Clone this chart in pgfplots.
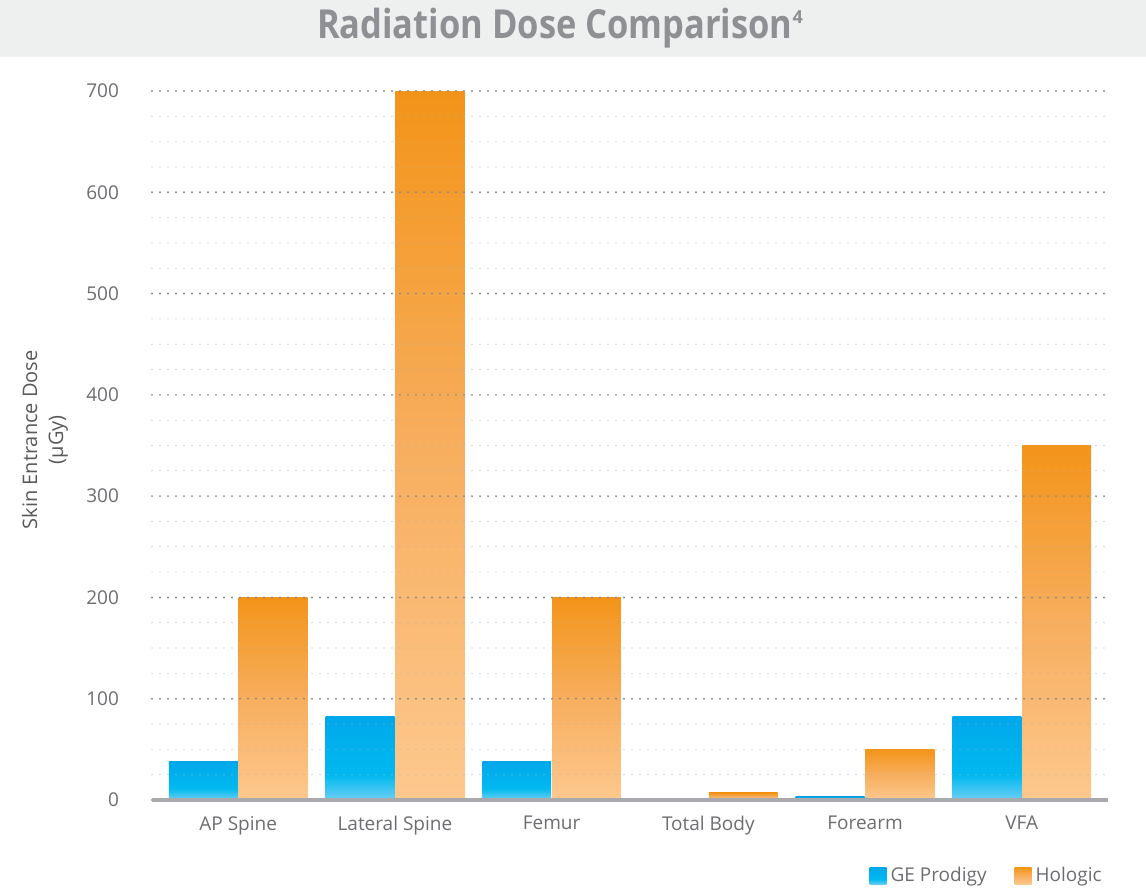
\documentclass[border=0pt]{standalone}
\usepackage{pgfplots}
\pgfplotsset{compat=1.18}
\usepackage{fontspec}
\setmainfont{Open Sans}
\definecolor{titlebg}{HTML}{EEEFEF}
\definecolor{titlegray}{HTML}{8E9093}
\definecolor{textgray}{HTML}{6D6E71}
\definecolor{labelgray}{HTML}{58595B}
\definecolor{axisgray}{HTML}{A7A9AC}
\definecolor{blueTop}{HTML}{00A8EB}
\definecolor{blueMid}{HTML}{00B9EF}
\definecolor{blueBot}{HTML}{6DCEF5}
\definecolor{orTop}{HTML}{F39419}
\definecolor{orMid}{HTML}{F7AE5E}
\definecolor{orBot}{HTML}{FDC88E}
\pgfdeclareverticalshading{blueshade}{100bp}{color(0bp)=(blueBot); color(25bp)=(blueBot); color(40bp)=(blueMid); color(75bp)=(blueTop); color(100bp)=(blueTop)}
\pgfdeclareverticalshading{orshade}{100bp}{color(0bp)=(orBot); color(25bp)=(orBot); color(50bp)=(orMid); color(75bp)=(orTop); color(100bp)=(orTop)}
\pgfplotsset{
  sqlegend/.style={legend image code/.code={\path[##1] (0pt,-4.25pt) rectangle (8.5pt,4.25pt);}},
  gebar/.style={ybar, bar width=0.44, bar shift=-0.2225, draw=none, shading=blueshade, sqlegend},
  hobar/.style={ybar, bar width=0.44, bar shift=0.2225, draw=none, shading=orshade, sqlegend},
}
\begin{document}
\begin{tikzpicture}
\path[use as bounding box, fill=white] (0pt,0pt) rectangle (573pt,445pt);
\fill[titlebg] (0pt,416.5pt) rectangle (573pt,445pt);
\node[text=titlegray, font=\bfseries\fontsize{20}{24}\selectfont] at (280pt,431pt) {\scalebox{0.862}[1]{Radiation Dose Comparison}\raisebox{0.38em}{\fontsize{9}{10}\selectfont 4}};
\begin{axis}[
  at={(76pt,45pt)}, anchor=south west,
  scale only axis, width=478pt, height=354.5pt,
  xmin=-0.55, xmax=5.55, ymin=0, ymax=700,
  xtick={0,1,2,3,4,5},
  xticklabels={AP Spine, Lateral Spine, Femur, Total Body, Forearm, VFA},
  ytick={0,100,...,700}, minor y tick num=3,
  ymajorgrids, yminorgrids,
  major grid style={draw=black!45, line width=1.1pt, dash pattern=on 0pt off 4pt, line cap=round},
  minor grid style={draw=black!30, line width=0.6pt, dash pattern=on 0pt off 4pt, line cap=round},
  axis on top,
  axis x line*=bottom, axis y line*=left,
  x axis line style={draw=axisgray, line width=1.6pt, -},
  y axis line style={draw=none},
  major tick length=0pt, minor tick length=0pt,
  tick label style={font=\fontsize{9.5}{11}\selectfont, text=textgray},
  /pgf/number format/assume math mode=true,
  yticklabel style={xshift=-13pt},
  xticklabel style={yshift=-4.5pt},
  ylabel={Skin Entrance Dose\\(µGy)},
  ylabel style={at={(axis description cs:-0.112,0.508)}, anchor=center, align=center, font=\fontsize{10}{13}\selectfont, text=labelgray},
  legend style={at={(axis description cs:0.998,-0.107)}, anchor=east, draw=none, fill=none, legend columns=2, font=\fontsize{9.5}{11}\selectfont, text=textgray, /tikz/every even column/.append style={column sep=12pt}, inner sep=0pt},
  legend cell align=left,
]
\addplot[gebar] coordinates {(0,38)};
\addlegendentry{GE Prodigy}
\addplot[hobar] coordinates {(0,200)};
\addlegendentry{Hologic}
\addplot[gebar, forget plot] coordinates {(1,82)};
\addplot[hobar, forget plot] coordinates {(1,700)};
\addplot[gebar, forget plot] coordinates {(2,38)};
\addplot[hobar, forget plot] coordinates {(2,200)};
\addplot[gebar, forget plot] coordinates {(3,0.5)};
\addplot[hobar, forget plot] coordinates {(3,7)};
\addplot[gebar, forget plot] coordinates {(4,3)};
\addplot[hobar, forget plot] coordinates {(4,50)};
\addplot[gebar, forget plot] coordinates {(5,82)};
\addplot[hobar, forget plot] coordinates {(5,350)};
\end{axis}
\end{tikzpicture}
\end{document}
